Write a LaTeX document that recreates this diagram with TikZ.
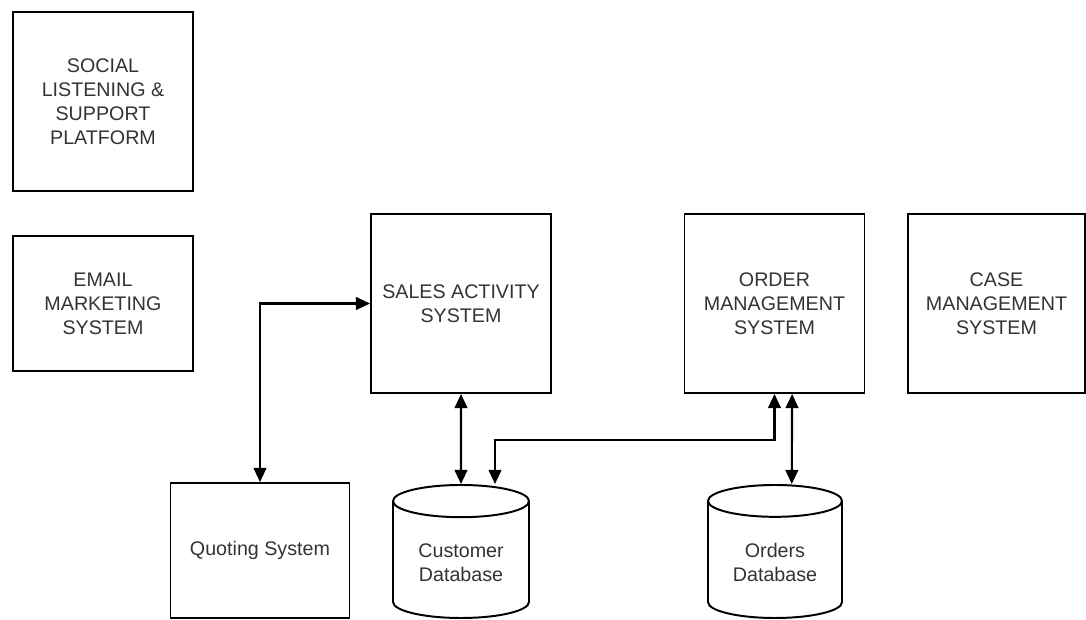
\documentclass[tikz,border=0pt]{standalone}
\usepackage{fontspec}
\setmainfont{Liberation Sans}
\usetikzlibrary{shapes.geometric,arrows.meta}
\begin{document}
\begin{tikzpicture}[
		every node/.style={align=center,text=black!80,font=\fontsize{14}{17}\selectfont},
		sysbox/.style={draw,line width=1.4pt,minimum width=4.5cm,minimum height=4.475cm},
		smallbox/.style={sysbox,minimum height=3.375cm},
		dbase/.style={draw,line width=1.4pt,cylinder,shape border rotate=90,aspect=.34,minimum height=3.325cm,anchor=shape center},
		link/.style={line width=1.5pt,{Triangle[length=10pt,width=9pt]}-{Triangle[length=10pt,width=9pt]}}]
	\useasboundingbox (0,0) rectangle (27.15,15.5);
	\def\midrow{7.9125}
	
	\node[sysbox] (social) at (2.575,12.9625) {SOCIAL\\LISTENING \&\\SUPPORT\\PLATFORM};
	\node[smallbox] (email) at (2.575,\midrow) {EMAIL\\MARKETING\\SYSTEM};
	\node[sysbox] (sales) at (11.525,\midrow) {SALES ACTIVITY\\SYSTEM};
	\node[sysbox] (order) at (19.3625,\midrow) {ORDER\\MANAGEMENT\\SYSTEM};
	\node[sysbox,minimum width=4.425cm] (case) at (24.9125,\midrow) {CASE\\MANAGEMENT\\SYSTEM};
	
	\node[smallbox,minimum width=4.475cm] (quote) at (6.5,1.7375) {Quoting System};
	\node[dbase,minimum width=3.4cm] (cust) at (11.525,1.7125) {Customer\\Database};
	\node[dbase,minimum width=3.35cm] (odb) at (19.375,1.7125) {Orders\\Database};
	
	\draw[link] (quote.north) |- (sales.west);
	\draw[link] (sales.south) -- (cust.north);
	\draw[link] (order.south) -- ++(0,-1.15) -| ([xshift=.85cm]cust.north);
	\draw[link] ([xshift=.44cm]order.south) -- ([xshift=.42cm]odb.north);
\end{tikzpicture}
\end{document}
